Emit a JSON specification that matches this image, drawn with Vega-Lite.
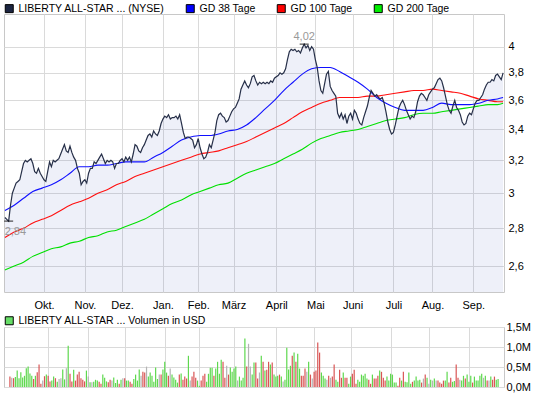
{
"$schema": "https://vega.github.io/schema/vega-lite/v6.json",
"padding": {"left": 2, "top": 2, "right": 0, "bottom": 0},
"background": "white",
"spacing": 35,
"bounds": "flush",
"config": {
  "font": "Liberation Sans",
  "view": {"stroke": "#c8c8c8", "strokeWidth": 1},
  "axis": {"gridColor": "#dadada", "gridWidth": 1, "domain": false, "ticks": false, "labelFontSize": 11, "labelColor": "#000000", "labelFont": "Liberation Sans"},
  "legend": {"labelFont": "Liberation Sans", "labelFontSize": 10.5, "labelColor": "#000000", "labelLimit": 400}
},
"resolve": {"scale": {"color": "independent", "fill": "independent"}, "legend": {"color": "independent", "fill": "independent"}},
"datasets": {
"px": [
{"i":0,"c":2.86,"v":260000,"t":"d"},{"i":1,"c":2.85,"v":230000,"t":"n"},{"i":2,"c":2.84,"v":220000,"t":"d"},{"i":3,"c":2.93,"v":250000,"t":"u"},{"i":4,"c":3.00,"v":410000,"t":"u"},{"i":5,"c":3.03,"v":220000,"t":"u"},{"i":6,"c":3.06,"v":370000,"t":"u"},{"i":7,"c":3.07,"v":240000,"t":"u"},{"i":8,"c":3.08,"v":280000,"t":"u"},{"i":9,"c":3.13,"v":470000,"t":"u"},
{"i":10,"c":3.18,"v":510000,"t":"u"},{"i":11,"c":3.20,"v":340000,"t":"u"},{"i":12,"c":3.19,"v":280000,"t":"u"},{"i":13,"c":3.20,"v":200000,"t":"d"},{"i":14,"c":3.21,"v":280000,"t":"u"},{"i":15,"c":3.18,"v":370000,"t":"d"},{"i":16,"c":3.13,"v":560000,"t":"d"},{"i":17,"c":3.12,"v":80000,"t":"d"},{"i":18,"c":3.15,"v":160000,"t":"n"},{"i":19,"c":3.12,"v":270000,"t":"d"},
{"i":20,"c":3.10,"v":310000,"t":"u"},{"i":21,"c":3.08,"v":280000,"t":"d"},{"i":22,"c":3.07,"v":140000,"t":"d"},{"i":23,"c":3.13,"v":160000,"t":"u"},{"i":24,"c":3.19,"v":260000,"t":"u"},{"i":25,"c":3.16,"v":220000,"t":"d"},{"i":26,"c":3.20,"v":130000,"t":"u"},{"i":27,"c":3.19,"v":200000,"t":"n"},{"i":28,"c":3.20,"v":220000,"t":"n"},{"i":29,"c":3.21,"v":440000,"t":"u"},
{"i":30,"c":3.24,"v":190000,"t":"u"},{"i":31,"c":3.27,"v":470000,"t":"n"},{"i":32,"c":3.30,"v":1030000,"t":"u"},{"i":33,"c":3.26,"v":330000,"t":"d"},{"i":34,"c":3.25,"v":140000,"t":"d"},{"i":35,"c":3.29,"v":430000,"t":"u"},{"i":36,"c":3.25,"v":160000,"t":"d"},{"i":37,"c":3.22,"v":310000,"t":"d"},{"i":38,"c":3.20,"v":380000,"t":"d"},{"i":39,"c":3.15,"v":220000,"t":"d"},
{"i":40,"c":3.12,"v":180000,"t":"d"},{"i":41,"c":3.05,"v":140000,"t":"d"},{"i":42,"c":3.07,"v":410000,"t":"u"},{"i":43,"c":3.08,"v":260000,"t":"n"},{"i":44,"c":3.06,"v":120000,"t":"u"},{"i":45,"c":3.12,"v":120000,"t":"n"},{"i":46,"c":3.15,"v":130000,"t":"u"},{"i":47,"c":3.15,"v":180000,"t":"u"},{"i":48,"c":3.19,"v":160000,"t":"u"},{"i":49,"c":3.18,"v":130000,"t":"d"},
{"i":50,"c":3.20,"v":80000,"t":"d"},{"i":51,"c":3.22,"v":310000,"t":"u"},{"i":52,"c":3.24,"v":230000,"t":"u"},{"i":53,"c":3.21,"v":140000,"t":"u"},{"i":54,"c":3.18,"v":120000,"t":"d"},{"i":55,"c":3.20,"v":180000,"t":"d"},{"i":56,"c":3.19,"v":160000,"t":"n"},{"i":57,"c":3.20,"v":240000,"t":"u"},{"i":58,"c":3.19,"v":100000,"t":"u"},{"i":59,"c":3.15,"v":180000,"t":"u"},
{"i":60,"c":3.18,"v":80000,"t":"d"},{"i":61,"c":3.18,"v":180000,"t":"u"},{"i":62,"c":3.20,"v":220000,"t":"n"},{"i":63,"c":3.21,"v":220000,"t":"d"},{"i":64,"c":3.19,"v":160000,"t":"u"},{"i":65,"c":3.22,"v":160000,"t":"u"},{"i":66,"c":3.20,"v":130000,"t":"d"},{"i":67,"c":3.22,"v":80000,"t":"d"},{"i":68,"c":3.19,"v":200000,"t":"u"},{"i":69,"c":3.24,"v":310000,"t":"u"},
{"i":70,"c":3.30,"v":160000,"t":"u"},{"i":71,"c":3.29,"v":440000,"t":"u"},{"i":72,"c":3.26,"v":280000,"t":"n"},{"i":73,"c":3.25,"v":380000,"t":"d"},{"i":74,"c":3.28,"v":360000,"t":"d"},{"i":75,"c":3.30,"v":510000,"t":"n"},{"i":76,"c":3.33,"v":260000,"t":"u"},{"i":77,"c":3.36,"v":360000,"t":"u"},{"i":78,"c":3.37,"v":280000,"t":"u"},{"i":79,"c":3.35,"v":130000,"t":"u"},
{"i":80,"c":3.39,"v":490000,"t":"u"},{"i":81,"c":3.37,"v":200000,"t":"u"},{"i":82,"c":3.36,"v":310000,"t":"n"},{"i":83,"c":3.39,"v":310000,"t":"d"},{"i":84,"c":3.44,"v":440000,"t":"u"},{"i":85,"c":3.47,"v":630000,"t":"u"},{"i":86,"c":3.49,"v":360000,"t":"u"},{"i":87,"c":3.48,"v":280000,"t":"d"},{"i":88,"c":3.50,"v":460000,"t":"n"},{"i":89,"c":3.47,"v":310000,"t":"u"},
{"i":90,"c":3.48,"v":240000,"t":"u"},{"i":91,"c":3.48,"v":180000,"t":"u"},{"i":92,"c":3.49,"v":110000,"t":"u"},{"i":93,"c":3.47,"v":310000,"t":"d"},{"i":94,"c":3.50,"v":340000,"t":"u"},{"i":95,"c":3.44,"v":180000,"t":"d"},{"i":96,"c":3.38,"v":260000,"t":"d"},{"i":97,"c":3.34,"v":210000,"t":"d"},{"i":98,"c":3.35,"v":780000,"t":"u"},{"i":99,"c":3.35,"v":160000,"t":"n"},
{"i":100,"c":3.34,"v":260000,"t":"d"},{"i":101,"c":3.33,"v":380000,"t":"d"},{"i":102,"c":3.28,"v":230000,"t":"d"},{"i":103,"c":3.30,"v":160000,"t":"u"},{"i":104,"c":3.34,"v":30000,"t":"u"},{"i":105,"c":3.28,"v":160000,"t":"d"},{"i":106,"c":3.24,"v":280000,"t":"d"},{"i":107,"c":3.21,"v":330000,"t":"d"},{"i":108,"c":3.22,"v":130000,"t":"u"},{"i":109,"c":3.25,"v":330000,"t":"u"},
{"i":110,"c":3.30,"v":480000,"t":"u"},{"i":111,"c":3.28,"v":480000,"t":"u"},{"i":112,"c":3.33,"v":280000,"t":"d"},{"i":113,"c":3.38,"v":460000,"t":"u"},{"i":114,"c":3.46,"v":630000,"t":"u"},{"i":115,"c":3.50,"v":330000,"t":"u"},{"i":116,"c":3.51,"v":680000,"t":"u"},{"i":117,"c":3.49,"v":630000,"t":"d"},{"i":118,"c":3.48,"v":230000,"t":"d"},{"i":119,"c":3.45,"v":530000,"t":"n"},
{"i":120,"c":3.46,"v":310000,"t":"d"},{"i":121,"c":3.49,"v":490000,"t":"u"},{"i":122,"c":3.52,"v":380000,"t":"u"},{"i":123,"c":3.54,"v":460000,"t":"u"},{"i":124,"c":3.55,"v":510000,"t":"u"},{"i":125,"c":3.58,"v":160000,"t":"n"},{"i":126,"c":3.61,"v":260000,"t":"u"},{"i":127,"c":3.68,"v":160000,"t":"u"},{"i":128,"c":3.71,"v":230000,"t":"u"},{"i":129,"c":3.74,"v":1210000,"t":"u"},
{"i":130,"c":3.71,"v":510000,"t":"d"},{"i":131,"c":3.69,"v":1080000,"t":"n"},{"i":132,"c":3.72,"v":510000,"t":"n"},{"i":133,"c":3.77,"v":310000,"t":"u"},{"i":134,"c":3.78,"v":610000,"t":"u"},{"i":135,"c":3.74,"v":610000,"t":"d"},{"i":136,"c":3.71,"v":210000,"t":"d"},{"i":137,"c":3.73,"v":360000,"t":"n"},{"i":138,"c":3.72,"v":780000,"t":"u"},{"i":139,"c":3.73,"v":630000,"t":"d"},
{"i":140,"c":3.72,"v":410000,"t":"u"},{"i":141,"c":3.73,"v":430000,"t":"d"},{"i":142,"c":3.72,"v":630000,"t":"d"},{"i":143,"c":3.74,"v":560000,"t":"u"},{"i":144,"c":3.73,"v":610000,"t":"d"},{"i":145,"c":3.76,"v":310000,"t":"u"},{"i":146,"c":3.77,"v":260000,"t":"u"},{"i":147,"c":3.78,"v":280000,"t":"u"},{"i":148,"c":3.80,"v":310000,"t":"d"},{"i":149,"c":3.79,"v":260000,"t":"u"},
{"i":150,"c":3.80,"v":140000,"t":"n"},{"i":151,"c":3.83,"v":180000,"t":"u"},{"i":152,"c":3.90,"v":980000,"t":"u"},{"i":153,"c":3.96,"v":440000,"t":"u"},{"i":154,"c":3.98,"v":530000,"t":"u"},{"i":155,"c":3.97,"v":780000,"t":"d"},{"i":156,"c":3.98,"v":860000,"t":"u"},{"i":157,"c":3.96,"v":630000,"t":"d"},{"i":158,"c":3.97,"v":830000,"t":"u"},{"i":159,"c":3.95,"v":460000,"t":"u"},
{"i":160,"c":3.99,"v":280000,"t":"d"},{"i":161,"c":4.02,"v":280000,"t":"d"},{"i":162,"c":3.99,"v":460000,"t":"d"},{"i":163,"c":4.01,"v":380000,"t":"n"},{"i":164,"c":3.97,"v":630000,"t":"u"},{"i":165,"c":4.00,"v":310000,"t":"d"},{"i":166,"c":3.98,"v":210000,"t":"n"},{"i":167,"c":3.90,"v":380000,"t":"d"},{"i":168,"c":3.84,"v":410000,"t":"d"},{"i":169,"c":3.74,"v":1110000,"t":"d"},
{"i":170,"c":3.67,"v":860000,"t":"d"},{"i":171,"c":3.65,"v":360000,"t":"u"},{"i":172,"c":3.72,"v":280000,"t":"u"},{"i":173,"c":3.79,"v":210000,"t":"u"},{"i":174,"c":3.81,"v":180000,"t":"n"},{"i":175,"c":3.70,"v":280000,"t":"d"},{"i":176,"c":3.67,"v":230000,"t":"n"},{"i":177,"c":3.65,"v":260000,"t":"d"},{"i":178,"c":3.63,"v":560000,"t":"d"},{"i":179,"c":3.51,"v":180000,"t":"u"},
{"i":180,"c":3.48,"v":130000,"t":"u"},{"i":181,"c":3.51,"v":430000,"t":"d"},{"i":182,"c":3.47,"v":230000,"t":"d"},{"i":183,"c":3.50,"v":360000,"t":"u"},{"i":184,"c":3.44,"v":230000,"t":"d"},{"i":185,"c":3.49,"v":230000,"t":"d"},{"i":186,"c":3.51,"v":80000,"t":"u"},{"i":187,"c":3.47,"v":260000,"t":"u"},{"i":188,"c":3.53,"v":330000,"t":"d"},{"i":189,"c":3.51,"v":430000,"t":"d"},
{"i":190,"c":3.47,"v":80000,"t":"d"},{"i":191,"c":3.44,"v":180000,"t":"u"},{"i":192,"c":3.43,"v":130000,"t":"u"},{"i":193,"c":3.48,"v":310000,"t":"u"},{"i":194,"c":3.52,"v":280000,"t":"u"},{"i":195,"c":3.56,"v":330000,"t":"u"},{"i":196,"c":3.62,"v":210000,"t":"u"},{"i":197,"c":3.67,"v":180000,"t":"d"},{"i":198,"c":3.65,"v":80000,"t":"d"},{"i":199,"c":3.63,"v":310000,"t":"u"},
{"i":200,"c":3.64,"v":210000,"t":"d"},{"i":201,"c":3.62,"v":210000,"t":"d"},{"i":202,"c":3.61,"v":280000,"t":"d"},{"i":203,"c":3.62,"v":410000,"t":"u"},{"i":204,"c":3.58,"v":380000,"t":"d"},{"i":205,"c":3.52,"v":230000,"t":"d"},{"i":206,"c":3.45,"v":160000,"t":"d"},{"i":207,"c":3.40,"v":260000,"t":"u"},{"i":208,"c":3.37,"v":160000,"t":"u"},{"i":209,"c":3.38,"v":330000,"t":"u"},
{"i":210,"c":3.43,"v":310000,"t":"u"},{"i":211,"c":3.49,"v":110000,"t":"u"},{"i":212,"c":3.55,"v":110000,"t":"u"},{"i":213,"c":3.58,"v":30000,"t":"d"},{"i":214,"c":3.60,"v":230000,"t":"d"},{"i":215,"c":3.57,"v":160000,"t":"u"},{"i":216,"c":3.53,"v":380000,"t":"d"},{"i":217,"c":3.50,"v":130000,"t":"u"},{"i":218,"c":3.47,"v":120000,"t":"u"},{"i":219,"c":3.49,"v":360000,"t":"u"},
{"i":220,"c":3.48,"v":80000,"t":"u"},{"i":221,"c":3.52,"v":130000,"t":"d"},{"i":222,"c":3.59,"v":160000,"t":"u"},{"i":223,"c":3.63,"v":260000,"t":"u"},{"i":224,"c":3.65,"v":160000,"t":"u"},{"i":225,"c":3.64,"v":180000,"t":"u"},{"i":226,"c":3.62,"v":110000,"t":"d"},{"i":227,"c":3.60,"v":210000,"t":"n"},{"i":228,"c":3.64,"v":310000,"t":"d"},{"i":229,"c":3.66,"v":230000,"t":"u"},
{"i":230,"c":3.68,"v":80000,"t":"n"},{"i":231,"c":3.69,"v":180000,"t":"u"},{"i":232,"c":3.72,"v":160000,"t":"n"},{"i":233,"c":3.75,"v":210000,"t":"u"},{"i":234,"c":3.76,"v":160000,"t":"n"},{"i":235,"c":3.74,"v":160000,"t":"d"},{"i":236,"c":3.69,"v":110000,"t":"d"},{"i":237,"c":3.63,"v":80000,"t":"d"},{"i":238,"c":3.57,"v":160000,"t":"d"},{"i":239,"c":3.53,"v":160000,"t":"u"},
{"i":240,"c":3.51,"v":380000,"t":"u"},{"i":241,"c":3.56,"v":110000,"t":"d"},{"i":242,"c":3.60,"v":230000,"t":"d"},{"i":243,"c":3.55,"v":130000,"t":"u"},{"i":244,"c":3.53,"v":150000,"t":"u"},{"i":245,"c":3.50,"v":560000,"t":"d"},{"i":246,"c":3.45,"v":230000,"t":"d"},{"i":247,"c":3.43,"v":180000,"t":"n"},{"i":248,"c":3.44,"v":160000,"t":"u"},{"i":249,"c":3.49,"v":280000,"t":"u"},
{"i":250,"c":3.51,"v":210000,"t":"d"},{"i":251,"c":3.50,"v":310000,"t":"u"},{"i":252,"c":3.54,"v":130000,"t":"u"},{"i":253,"c":3.58,"v":280000,"t":"u"},{"i":254,"c":3.60,"v":110000,"t":"d"},{"i":255,"c":3.60,"v":260000,"t":"u"},{"i":256,"c":3.62,"v":160000,"t":"u"},{"i":257,"c":3.64,"v":160000,"t":"u"},{"i":258,"c":3.68,"v":280000,"t":"u"},{"i":259,"c":3.71,"v":330000,"t":"u"},
{"i":260,"c":3.73,"v":230000,"t":"n"},{"i":261,"c":3.73,"v":280000,"t":"u"},{"i":262,"c":3.75,"v":160000,"t":"d"},{"i":263,"c":3.74,"v":160000,"t":"n"},{"i":264,"c":3.78,"v":260000,"t":"u"},{"i":265,"c":3.79,"v":180000,"t":"d"},{"i":266,"c":3.77,"v":260000,"t":"d"},{"i":267,"c":3.75,"v":180000,"t":"u"},{"i":268,"c":3.80,"v":200000,"t":"u"}
],
"ma": [
{"i":0,"gd38":2.90,"gd100":2.75,"gd200":2.58},{"i":5,"gd38":2.93,"gd100":2.78,"gd200":2.60},{"i":10,"gd38":2.97,"gd100":2.80,"gd200":2.62},{"i":15,"gd38":3.01,"gd100":2.83,"gd200":2.65},{"i":20,"gd38":3.03,"gd100":2.85,"gd200":2.67},{"i":25,"gd38":3.05,"gd100":2.87,"gd200":2.69},{"i":30,"gd38":3.08,"gd100":2.90,"gd200":2.70},{"i":35,"gd38":3.12,"gd100":2.93,"gd200":2.72},{"i":40,"gd38":3.16,"gd100":2.95,"gd200":2.73},{"i":45,"gd38":3.16,"gd100":2.97,"gd200":2.75},
{"i":50,"gd38":3.17,"gd100":3.00,"gd200":2.76},{"i":55,"gd38":3.17,"gd100":3.02,"gd200":2.78},{"i":60,"gd38":3.18,"gd100":3.05,"gd200":2.79},{"i":65,"gd38":3.19,"gd100":3.07,"gd200":2.81},{"i":70,"gd38":3.19,"gd100":3.10,"gd200":2.83},{"i":75,"gd38":3.19,"gd100":3.12,"gd200":2.85},{"i":80,"gd38":3.22,"gd100":3.14,"gd200":2.88},{"i":85,"gd38":3.25,"gd100":3.16,"gd200":2.91},{"i":90,"gd38":3.29,"gd100":3.18,"gd200":2.94},{"i":95,"gd38":3.33,"gd100":3.20,"gd200":2.96},
{"i":100,"gd38":3.35,"gd100":3.22,"gd200":2.99},{"i":105,"gd38":3.36,"gd100":3.24,"gd200":3.01},{"i":110,"gd38":3.36,"gd100":3.25,"gd200":3.03},{"i":115,"gd38":3.37,"gd100":3.26,"gd200":3.05},{"i":120,"gd38":3.39,"gd100":3.28,"gd200":3.06},{"i":125,"gd38":3.40,"gd100":3.30,"gd200":3.09},{"i":130,"gd38":3.43,"gd100":3.32,"gd200":3.12},{"i":135,"gd38":3.48,"gd100":3.35,"gd200":3.14},{"i":140,"gd38":3.54,"gd100":3.38,"gd200":3.16},{"i":145,"gd38":3.60,"gd100":3.41,"gd200":3.18},
{"i":150,"gd38":3.67,"gd100":3.44,"gd200":3.21},{"i":155,"gd38":3.73,"gd100":3.48,"gd200":3.24},{"i":160,"gd38":3.79,"gd100":3.52,"gd200":3.27},{"i":165,"gd38":3.83,"gd100":3.55,"gd200":3.31},{"i":170,"gd38":3.84,"gd100":3.58,"gd200":3.34},{"i":175,"gd38":3.84,"gd100":3.60,"gd200":3.36},{"i":180,"gd38":3.81,"gd100":3.62,"gd200":3.38},{"i":185,"gd38":3.77,"gd100":3.62,"gd200":3.39},{"i":190,"gd38":3.73,"gd100":3.62,"gd200":3.40},{"i":195,"gd38":3.68,"gd100":3.63,"gd200":3.42},
{"i":200,"gd38":3.62,"gd100":3.63,"gd200":3.44},{"i":205,"gd38":3.58,"gd100":3.64,"gd200":3.46},{"i":210,"gd38":3.55,"gd100":3.65,"gd200":3.47},{"i":215,"gd38":3.53,"gd100":3.66,"gd200":3.48},{"i":220,"gd38":3.53,"gd100":3.67,"gd200":3.50},{"i":225,"gd38":3.53,"gd100":3.67,"gd200":3.51},{"i":230,"gd38":3.55,"gd100":3.68,"gd200":3.51},{"i":235,"gd38":3.58,"gd100":3.67,"gd200":3.52},{"i":240,"gd38":3.57,"gd100":3.66,"gd200":3.53},{"i":245,"gd38":3.57,"gd100":3.65,"gd200":3.54},
{"i":250,"gd38":3.57,"gd100":3.63,"gd200":3.55},{"i":255,"gd38":3.58,"gd100":3.61,"gd200":3.56},{"i":260,"gd38":3.60,"gd100":3.60,"gd200":3.57},{"i":265,"gd38":3.61,"gd100":3.59,"gd200":3.57},{"i":268,"gd38":3.62,"gd100":3.59,"gd200":3.58}
],
"ext": [{"i":161,"c":4.02,"t":"4,02","p":"max"},{"i":2,"c":2.84,"t":"2,84","p":"min"}],
"lg": [{"s":"LIBERTY ALL-STAR ... (NYSE)"},{"s":"GD 38 Tage"},{"s":"GD 100 Tage"},{"s":"GD 200 Tage"}],
"lgv": [{"s":"LIBERTY ALL-STAR ... Volumen in USD"}]
},
"vconcat": [
{
"width": 500,
"height": 278,
"encoding": {
  "x": {"field": "i", "type": "quantitative", "title": null,
    "scale": {"domain": [-0.5, 268.5], "nice": false, "zero": false},
    "axis": {"values": [21,43,63,85,104,123,146,167,187,209,230,252],
      "labelExpr": "['Okt.','Nov.','Dez.','Jan.','Feb.','März','April','Mai','Juni','Juli','Aug.','Sep.'][indexof([21,43,63,85,104,123,146,167,187,209,230,252], datum.value)]",
      "labelPadding": 7, "labelFlush": false, "labelOverlap": false}}
},
"layer": [
  {"data": {"name": "px"},
   "mark": {"type": "area", "color": "#5470c6", "opacity": 0.1},
   "encoding": {
     "y": {"field": "c", "type": "quantitative", "title": null,
       "scale": {"type": "log", "domain": [2.471, 4.265], "nice": false, "zero": false},
       "axis": {"orient": "right", "values": [2.6,2.8,3,3.2,3.4,3.6,3.8,4],
         "labelExpr": "replace(toString(datum.value), '.', ',')", "labelPadding": 4, "labelFlush": false, "labelOverlap": false}},
     "y2": {"datum": 2.471}}},
  {"data": {"name": "ma"},
   "mark": {"type": "line", "color": "#00e000", "strokeWidth": 1.1, "interpolate": "monotone"},
   "encoding": {"y": {"field": "gd200", "type": "quantitative", "title": null, "scale": {"type": "log"}}}},
  {"data": {"name": "ma"},
   "mark": {"type": "line", "color": "#ff1010", "strokeWidth": 1.1, "interpolate": "monotone"},
   "encoding": {"y": {"field": "gd100", "type": "quantitative", "title": null, "scale": {"type": "log"}}}},
  {"data": {"name": "ma"},
   "mark": {"type": "line", "color": "#1010ff", "strokeWidth": 1.1, "interpolate": "monotone"},
   "encoding": {"y": {"field": "gd38", "type": "quantitative", "title": null, "scale": {"type": "log"}}}},
  {"data": {"name": "px"},
   "mark": {"type": "line", "color": "#262f48", "strokeWidth": 1.2},
   "encoding": {"y": {"field": "c", "type": "quantitative", "title": null, "scale": {"type": "log"}}}},
  {"data": {"name": "ext"},
   "mark": {"type": "tick", "orient": "horizontal", "color": "#000000", "size": 9, "thickness": 1.2},
   "encoding": {"y": {"field": "c", "type": "quantitative", "title": null, "scale": {"type": "log"}}}},
  {"data": {"name": "ext"},
   "transform": [{"filter": "datum.p == 'max'"}],
   "mark": {"type": "text", "color": "#999999", "fontSize": 11, "baseline": "bottom", "dy": -2},
   "encoding": {"y": {"field": "c", "type": "quantitative", "title": null, "scale": {"type": "log"}}, "text": {"field": "t"}}},
  {"data": {"name": "ext"},
   "transform": [{"filter": "datum.p == 'min'"}],
   "mark": {"type": "text", "color": "#999999", "fontSize": 11, "baseline": "top", "align": "left", "dy": 5, "dx": -4},
   "encoding": {"y": {"field": "c", "type": "quantitative", "title": null, "scale": {"type": "log"}}, "text": {"field": "t"}}},
  {"data": {"name": "lg"},
   "transform": [{"filter": "false"}],
   "mark": {"type": "square", "filled": true, "stroke": "#000000", "strokeWidth": 1, "opacity": 1},
   "encoding": {
     "color": {"field": "s", "type": "nominal",
       "scale": {"domain": ["LIBERTY ALL-STAR ... (NYSE)", "GD 38 Tage", "GD 100 Tage", "GD 200 Tage"], "range": ["#1c2541", "#0000ff", "#ff0000", "#00ee00"]},
       "legend": {"orient": "none", "legendX": 0, "legendY": -11, "direction": "horizontal", "title": null,
         "symbolType": "square", "symbolSize": 64, "symbolStrokeColor": "#000000", "symbolStrokeWidth": 1, "symbolOpacity": 1,
         "columnPadding": 19, "labelOffset": 4}}}}
]
},
{
"width": 500,
"height": 60,
"layer": [
  {"data": {"name": "px"},
   "mark": {"type": "bar", "size": 1.2},
   "encoding": {
     "x": {"field": "i", "type": "quantitative", "title": null,
       "scale": {"domain": [-0.5, 268.5], "nice": false, "zero": false},
       "axis": {"values": [21,43,63,85,104,123,146,167,187,209,230,252], "labels": false}},
     "y": {"field": "v", "type": "quantitative", "title": null,
       "scale": {"domain": [0, 1500000], "nice": false},
       "axis": {"orient": "right", "values": [0, 500000, 1000000, 1500000],
         "labelExpr": "replace(format(datum.value / 1000000, '.1f'), '.', ',') + 'M'", "labelPadding": 2, "labelFlush": false, "labelOverlap": false}},
     "color": {"field": "t", "type": "nominal", "legend": null,
       "scale": {"domain": ["u", "d", "n"], "range": ["#5ed84e", "#d95555", "#b4b4b4"]}}}},
  {"data": {"name": "lgv"},
   "transform": [{"filter": "false"}],
   "mark": {"type": "square", "filled": true, "stroke": "#000000", "strokeWidth": 1, "opacity": 1},
   "encoding": {
     "fill": {"field": "s", "type": "nominal",
       "scale": {"domain": ["LIBERTY ALL-STAR ... Volumen in USD"], "range": ["#66dd66"]},
       "legend": {"orient": "none", "legendX": 0, "legendY": -11.5, "direction": "horizontal", "title": null,
         "symbolType": "square", "symbolSize": 64, "symbolStrokeColor": "#000000", "symbolStrokeWidth": 1, "symbolOpacity": 1,
         "labelOffset": 4}}}}
]
}
]
}
